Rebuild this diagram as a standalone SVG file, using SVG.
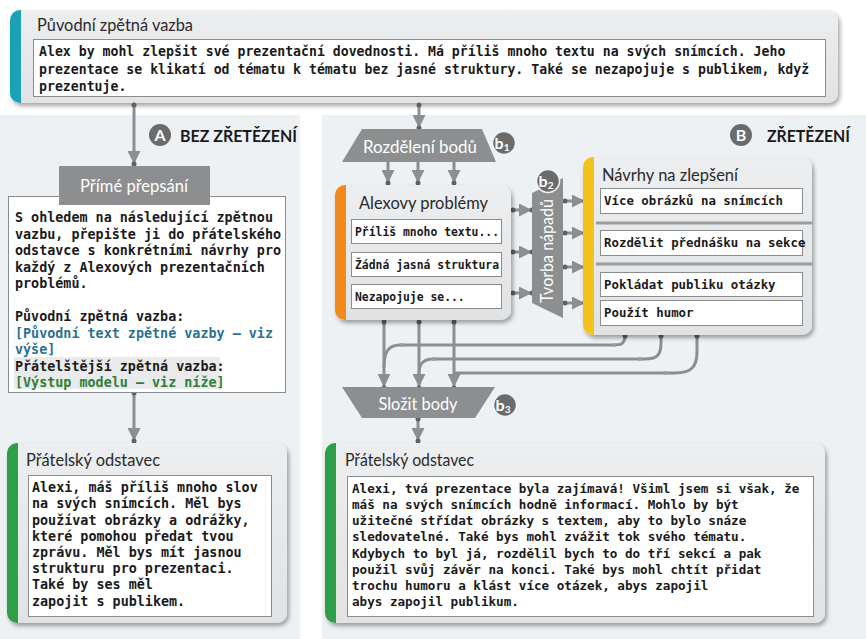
<svg xmlns="http://www.w3.org/2000/svg" width="866" height="639" viewBox="0 0 866 639">
<style>
.t{font-family:Lato,"Open Sans","Noto Sans",sans-serif;font-size:17px;fill:#2a2a2a}
.w{font-family:Lato,"Open Sans","Noto Sans",sans-serif;font-size:17px;fill:#ffffff}
.h{font-family:Lato,"Open Sans","Noto Sans",sans-serif;font-size:17px;font-weight:bold;fill:#1a1a1a}
.m{font-family:"DejaVu Sans Mono","Liberation Mono",monospace;font-weight:bold;fill:#1a1a1a}
.wb{fill:#ffffff;stroke:#8a8c8e;stroke-width:1}
.card{fill:url(#g);filter:url(#sh)}
.c{fill:none;stroke:#8c8e90;stroke-width:3}
.d{fill:#5f6163}
.bd{fill:#6a6b6d}
.bt{font-family:Lato,"Open Sans",sans-serif;font-weight:bold;fill:#fff;font-size:16px}
</style>
<defs>
<linearGradient id="g" x1="0" y1="0" x2="0" y2="1">
<stop offset="0" stop-color="#eceef0"/>
<stop offset="1" stop-color="#e0e2e4"/>
</linearGradient>
<filter id="sh" x="-5%" y="-5%" width="110%" height="115%">
<feDropShadow dx="2" dy="3" stdDeviation="2" flood-color="#000" flood-opacity="0.35"/>
</filter>
<marker id="ah" markerUnits="userSpaceOnUse" markerWidth="13" markerHeight="13" refX="12" refY="6.5" orient="auto">
<path d="M0,0 L13,6.5 L0,13 z" fill="#8c8e90"/>
</marker>
</defs>
<rect x="0" y="0" width="866" height="639" fill="#ffffff"/>
<rect x="0" y="115" width="300" height="524" fill="#eef1f4"/>
<rect x="322" y="115" width="544" height="524" fill="#eef1f4"/>

<!-- Top box -->
<g id="original">
<rect class="card" x="10" y="10" width="828" height="93" rx="10"/>
<path d="M21,10 H20 A10,10 0 0 0 10,20 V93 A10,10 0 0 0 20,103 H21 Z" fill="#1aa3b5"/>
<text class="t" x="37" y="31" textLength="156" lengthAdjust="spacingAndGlyphs">Původní zpětná vazba</text>
<rect class="wb" x="33.5" y="39.5" width="792" height="57"/>
<text class="m" font-size="13.2" x="39" y="56">Alex by mohl zlepšit své prezentační dovednosti. Má příliš mnoho textu na svých snímcích. Jeho</text>
<text class="m" font-size="13.2" x="39" y="74">prezentace se klikatí od tématu k tématu bez jasné struktury. Také se nezapojuje s publikem, když</text>
<text class="m" font-size="13.2" x="39" y="91">prezentuje.</text>
</g>

<!-- Section labels -->
<g id="labelA">
<circle class="bd" cx="160" cy="135" r="11"/>
<text class="bt" x="160" y="141" text-anchor="middle">A</text>
<text class="h" x="180" y="142" textLength="117" lengthAdjust="spacingAndGlyphs">BEZ ZŘETĚZENÍ</text>
</g>
<g id="labelB">
<circle class="bd" cx="741" cy="135" r="11"/>
<text class="bt" x="741" y="141" text-anchor="middle">B</text>
<text class="h" x="767" y="142" textLength="83" lengthAdjust="spacingAndGlyphs">ZŘETĚZENÍ</text>
</g>

<!-- Connectors -->
<g id="connectors">
<line class="c" x1="134" y1="104" x2="134" y2="163" marker-end="url(#ah)"/>
<line class="c" x1="419" y1="104" x2="419" y2="127" marker-end="url(#ah)"/>
<line class="c" x1="388" y1="161" x2="388" y2="182" marker-end="url(#ah)"/>
<line class="c" x1="418" y1="161" x2="418" y2="182" marker-end="url(#ah)"/>
<line class="c" x1="454" y1="161" x2="454" y2="182" marker-end="url(#ah)"/>
<line class="c" x1="511" y1="210" x2="531" y2="210" marker-end="url(#ah)"/>
<line class="c" x1="511" y1="252" x2="531" y2="252" marker-end="url(#ah)"/>
<line class="c" x1="511" y1="293" x2="531" y2="293" marker-end="url(#ah)"/>
<line class="c" x1="563" y1="201" x2="584" y2="201" marker-end="url(#ah)"/>
<line class="c" x1="563" y1="233" x2="584" y2="233" marker-end="url(#ah)"/>
<line class="c" x1="563" y1="267" x2="584" y2="267" marker-end="url(#ah)"/>
<line class="c" x1="563" y1="303" x2="584" y2="303" marker-end="url(#ah)"/>
<line class="c" x1="384" y1="320" x2="384" y2="386" marker-end="url(#ah)"/>
<line class="c" x1="419" y1="320" x2="419" y2="386" marker-end="url(#ah)"/>
<line class="c" x1="454" y1="320" x2="454" y2="386" marker-end="url(#ah)"/>
<path class="c" d="M625,335 C625,345 620,345 612,345 H400 C388,345 384,352 384,368"/>
<path class="c" d="M661,335 V343 C661,356 656,359 645,359 H433 C422,359 419,365 419,374"/>
<path class="c" d="M697,335 V352 C697,368 690,373 675,373 H454"/>
<line class="c" x1="134" y1="392" x2="134" y2="440" marker-end="url(#ah)"/>
<line class="c" x1="418" y1="418" x2="418" y2="440" marker-end="url(#ah)"/>
<g class="d">
<circle cx="134" cy="105" r="2.5"/><circle cx="134" cy="164" r="2.5"/>
<circle cx="419" cy="105" r="2.5"/><circle cx="419" cy="128" r="2.5"/>
<circle cx="388" cy="183" r="2.5"/><circle cx="418" cy="183" r="2.5"/><circle cx="454" cy="183" r="2.5"/>
<circle cx="513" cy="210" r="2.5"/><circle cx="532" cy="210" r="2.5"/>
<circle cx="513" cy="252" r="2.5"/><circle cx="532" cy="252" r="2.5"/>
<circle cx="513" cy="293" r="2.5"/><circle cx="532" cy="293" r="2.5"/>
<circle cx="565" cy="201" r="2.5"/><circle cx="585" cy="201" r="2.5"/>
<circle cx="565" cy="233" r="2.5"/><circle cx="585" cy="233" r="2.5"/>
<circle cx="565" cy="267" r="2.5"/><circle cx="585" cy="267" r="2.5"/>
<circle cx="565" cy="303" r="2.5"/><circle cx="585" cy="303" r="2.5"/>
<circle cx="384" cy="322" r="2.5"/><circle cx="419" cy="322" r="2.5"/><circle cx="454" cy="322" r="2.5"/>
<circle cx="384" cy="388" r="2.5"/><circle cx="419" cy="388" r="2.5"/><circle cx="454" cy="388" r="2.5"/>
<circle cx="625" cy="336" r="2.5"/><circle cx="661" cy="336" r="2.5"/><circle cx="697" cy="336" r="2.5"/>
<circle cx="614" cy="345" r="2" fill="#9a9c9e"/><circle cx="402" cy="345" r="2" fill="#9a9c9e"/>
<circle cx="640" cy="359" r="2" fill="#9a9c9e"/><circle cx="434" cy="359" r="2" fill="#9a9c9e"/>
<circle cx="665" cy="373" r="2" fill="#9a9c9e"/>
<circle cx="134" cy="393" r="2.5"/><circle cx="134" cy="441" r="2.5"/>
<circle cx="418" cy="419" r="2.5"/><circle cx="418" cy="441" r="2.5"/>
</g>
</g>

<!-- A: direct rewrite -->
<g id="prompt">
<rect class="wb" x="8.5" y="196.5" width="277" height="196"/>
<rect x="14" y="357" width="206" height="32" fill="#e9eaeb"/>
<g class="m" font-size="13.4">
<text x="15" y="222">S ohledem na následující zpětnou</text>
<text x="15" y="238.5">vazbu, přepište ji do přátelského</text>
<text x="15" y="255">odstavce s konkrétními návrhy pro</text>
<text x="15" y="271.5">každý z Alexových prezentačních</text>
<text x="15" y="288">problémů.</text>
<text x="15" y="321">Původní zpětná vazba:</text>
<text x="15" y="337.5" fill="#2a7191">[Původní text zpětné vazby – viz</text>
<text x="15" y="354" fill="#2a7191">výše]</text>
<text x="15" y="370.5">Přátelštější zpětná vazba:</text>
<text x="15" y="387" fill="#2f7d3a">[Výstup modelu – viz níže]</text>
</g>
</g>
<g id="direct">
<rect x="59" y="166" width="151" height="39" fill="#8c8e90"/>
<text class="w" x="134" y="192" text-anchor="middle" textLength="108" lengthAdjust="spacingAndGlyphs">Přímé přepsání</text>
</g>

<g id="outA">
<rect class="card" x="7" y="443" width="280" height="180" rx="10"/>
<path d="M18,443 H17 A10,10 0 0 0 7,453 V613 A10,10 0 0 0 17,623 H18 Z" fill="#2e9e48"/>
<text class="t" x="26" y="466" textLength="134" lengthAdjust="spacingAndGlyphs">Přátelský odstavec</text>
<rect class="wb" x="28.5" y="475.5" width="243" height="141"/>
<g class="m" font-size="13.4">
<text x="32" y="492">Alexi, máš příliš mnoho slov</text>
<text x="32" y="508">na svých snímcích. Měl bys</text>
<text x="32" y="524.5">používat obrázky a odrážky,</text>
<text x="32" y="541">které pomohou předat tvou</text>
<text x="32" y="557">zprávu. Měl bys mít jasnou</text>
<text x="32" y="573">strukturu pro prezentaci.</text>
<text x="32" y="589">Také by ses měl</text>
<text x="32" y="605.5">zapojit s publikem.</text>
</g>
</g>

<!-- B: chaining -->
<g id="split">
<path d="M362,129 L482,129 L496,162 L342,162 Z" fill="#8c8e90"/>
<text class="w" x="420" y="153" text-anchor="middle" textLength="114" lengthAdjust="spacingAndGlyphs">Rozdělení bodů</text>
<circle class="bd" cx="504" cy="143" r="11.5" stroke="#f2f2f2" stroke-width="1.5"/>
<text class="bt" x="502" y="149" text-anchor="middle">b<tspan font-size="10" dy="2">1</tspan></text>
</g>

<g id="problems">
<rect class="card" x="335" y="185" width="176" height="135" rx="10"/>
<path d="M346,185 H345 A10,10 0 0 0 335,195 V310 A10,10 0 0 0 345,320 H346 Z" fill="#f08a1c"/>
<text class="t" x="359" y="209" textLength="129" lengthAdjust="spacingAndGlyphs">Alexovy problémy</text>
<rect class="wb" x="351.5" y="219.5" width="150" height="24"/>
<rect class="wb" x="351.5" y="252.5" width="150" height="24"/>
<rect class="wb" x="351.5" y="284.5" width="150" height="24"/>
<g class="m" font-size="11.4">
<text x="355" y="235.5">Příliš mnoho textu...</text>
<text x="355" y="268.5">Žádná jasná struktura</text>
<text x="355" y="300.5">Nezapojuje se...</text>
</g>
</g>

<g id="ideas">
<path d="M532,193 L563,178 L563,318 L532,303 Z" fill="#8c8e90"/>
<text class="w" transform="translate(553,251) rotate(-90)" text-anchor="middle" textLength="104" lengthAdjust="spacingAndGlyphs">Tvorba nápadů</text>
<circle class="bd" cx="548" cy="181" r="11.5" stroke="#f2f2f2" stroke-width="1.5"/>
<text class="bt" x="546" y="187" text-anchor="middle">b<tspan font-size="10" dy="2">2</tspan></text>
</g>

<g id="suggestions">
<rect class="card" x="583" y="157" width="229" height="178" rx="10"/>
<path d="M594,157 H593 A10,10 0 0 0 583,167 V325 A10,10 0 0 0 593,335 H594 Z" fill="#f5c21b"/>
<text class="t" x="602" y="181" textLength="136" lengthAdjust="spacingAndGlyphs">Návrhy na zlepšení</text>
<line x1="596" y1="223" x2="812" y2="223" stroke="#9a9c9e" stroke-width="3"/>
<line x1="596" y1="264" x2="812" y2="264" stroke="#9a9c9e" stroke-width="3"/>
<rect class="wb" x="600.5" y="188.5" width="202" height="25"/>
<rect class="wb" x="600.5" y="230.5" width="202" height="25"/>
<rect class="wb" x="600.5" y="272.5" width="202" height="24"/>
<rect class="wb" x="600.5" y="300.5" width="202" height="25"/>
<g class="m" font-size="12.4">
<text x="604" y="205">Více obrázků na snímcích</text>
<text x="604" y="247">Rozdělit přednášku na sekce</text>
<text x="604" y="288.5">Pokládat publiku otázky</text>
<text x="604" y="317">Použít humor</text>
</g>
</g>

<g id="compose">
<path d="M342,387 L495,387 L475,418 L362,418 Z" fill="#8c8e90"/>
<text class="w" x="418" y="410" text-anchor="middle" textLength="79" lengthAdjust="spacingAndGlyphs">Složit body</text>
<circle class="bd" cx="505" cy="405" r="11.5" stroke="#f2f2f2" stroke-width="1.5"/>
<text class="bt" x="503" y="411" text-anchor="middle">b<tspan font-size="10" dy="2">3</tspan></text>
</g>

<g id="outB">
<rect class="card" x="325" y="443" width="500" height="180" rx="10"/>
<path d="M336,443 H335 A10,10 0 0 0 325,453 V613 A10,10 0 0 0 335,623 H336 Z" fill="#2e9e48"/>
<text class="t" x="345" y="466" textLength="129" lengthAdjust="spacingAndGlyphs">Přátelský odstavec</text>
<rect class="wb" x="347.5" y="476.5" width="466" height="140"/>
<g class="m" font-size="12.6">
<text x="352" y="493">Alexi, tvá prezentace byla zajímavá! Všiml jsem si však, že</text>
<text x="352" y="509">máš na svých snímcích hodně informací. Mohlo by být</text>
<text x="352" y="525">užitečné střídat obrázky s textem, aby to bylo snáze</text>
<text x="352" y="541">sledovatelné. Také bys mohl zvážit tok svého tématu.</text>
<text x="352" y="558">Kdybych to byl já, rozdělil bych to do tří sekcí a pak</text>
<text x="352" y="574">použil svůj závěr na konci. Také bys mohl chtít přidat</text>
<text x="352" y="590">trochu humoru a klást více otázek, abys zapojil</text>
<text x="352" y="606">abys zapojil publikum.</text>
</g>
</g>
</svg>
